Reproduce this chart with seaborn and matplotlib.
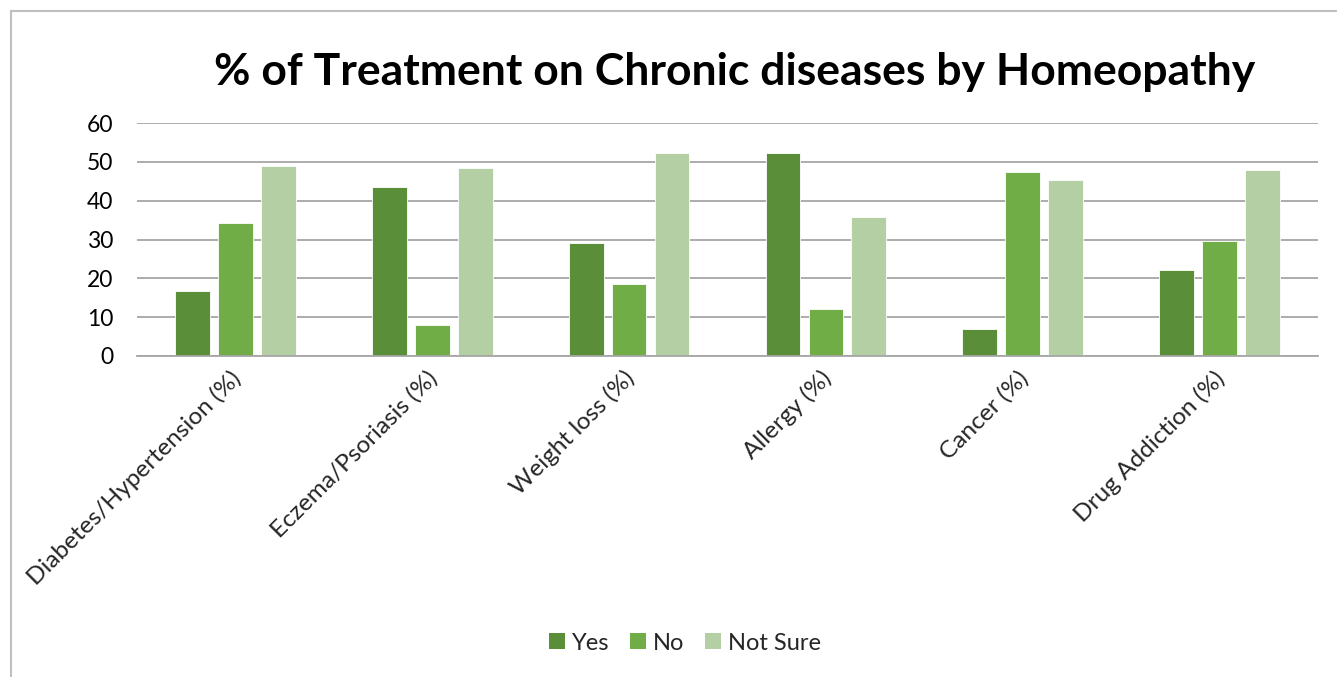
import matplotlib
matplotlib.use("Agg")
import matplotlib.pyplot as plt
from matplotlib.patches import Rectangle
from matplotlib.transforms import ScaledTranslation
import seaborn as sns
import pandas as pd

categories = [
    "Diabetes/Hypertension (%)",
    "Eczema/Psoriasis (%)",
    "Weight loss (%)",
    "Allergy (%)",
    "Cancer (%)",
    "Drug Addiction (%)",
]
yes_vals = [16.7, 43.4, 29.1, 52.2, 7.0, 22.1]
no_vals = [34.2, 8.1, 18.6, 12.0, 47.4, 29.7]
not_sure_vals = [49.0, 48.5, 52.2, 35.7, 45.4, 48.0]
series_names = ["Yes", "No", "Not Sure"]
colors = ["#5B8E39", "#70AD47", "#B5CFA5"]
y_ticks = [0, 10, 20, 30, 40, 50, 60]
title_text = "% of Treatment on Chronic diseases by Homeopathy"

rows = []
for name, vals in zip(series_names, [yes_vals, no_vals, not_sure_vals]):
    for cat, v in zip(categories, vals):
        rows.append({"Disease": cat, "Response": name, "Value": v})
df = pd.DataFrame(rows)

sns.set_style("white")
plt.rcParams["font.family"] = ["Lato", "DejaVu Sans"]

W, H = 1337, 677
fig = plt.figure(figsize=(W / 100, H / 100), dpi=100)
ax = fig.add_axes([137 / W, 1 - 356 / H, (1318 - 137) / W, (356 - 123) / H])

sns.barplot(
    data=df, x="Disease", y="Value", hue="Response",
    order=categories, hue_order=series_names,
    palette=colors, saturation=1, width=0.655, gap=0.19, ax=ax,
    edgecolor="white", linewidth=0.6, legend=False,
)

ax.set_ylim(0, 60)
ax.set_xlim(-0.5, len(categories) - 0.5)
ax.set_yticks(y_ticks)
ax.set_yticklabels([str(t) for t in y_ticks], fontsize=16.5, color="#000000")
ax.yaxis.grid(True, color="#A6A6A6", linewidth=1.3)
ax.set_axisbelow(True)
for side in ["left", "right", "top"]:
    ax.spines[side].set_visible(False)
ax.spines["bottom"].set_color("#A6A6A6")
ax.spines["bottom"].set_linewidth(1.3)
ax.tick_params(axis="y", length=0, pad=17)
ax.tick_params(axis="x", length=0, pad=8)
ax.set_xlabel("")
ax.set_ylabel("")
ax.set_xticks(range(len(categories)))
ax.set_xticklabels(categories, rotation=45, ha="right", va="top",
                   rotation_mode="anchor", fontsize=17.6)
# nudge the rotated category labels so their ends sit under each group
for lbl in ax.get_xticklabels():
    lbl.set_transform(lbl.get_transform() + ScaledTranslation(-6 / 100, 0, fig.dpi_scale_trans))

fig.text(735 / W, 1 - 72 / H, title_text, ha="center", va="center",
         fontsize=32, fontweight="bold", color="#000000")

handles = [Rectangle((0, 0), 1, 1, facecolor=c, edgecolor="none") for c in colors]
fig.legend(handles, series_names, loc="center", bbox_to_anchor=(685 / W, 1 - 643 / H),
           ncol=3, frameon=False, fontsize=17, handlelength=0.65, handleheight=0.65,
           handletextpad=0.3, columnspacing=0.9)

# chart frame
fig.patches.append(Rectangle((11 / W, -0.1), 1.2, 1 - 11 / H + 0.1, transform=fig.transFigure,
                             fill=False, edgecolor="#BFBFBF", linewidth=1.5))

fig.savefig("out.png", dpi=100, facecolor="white")
